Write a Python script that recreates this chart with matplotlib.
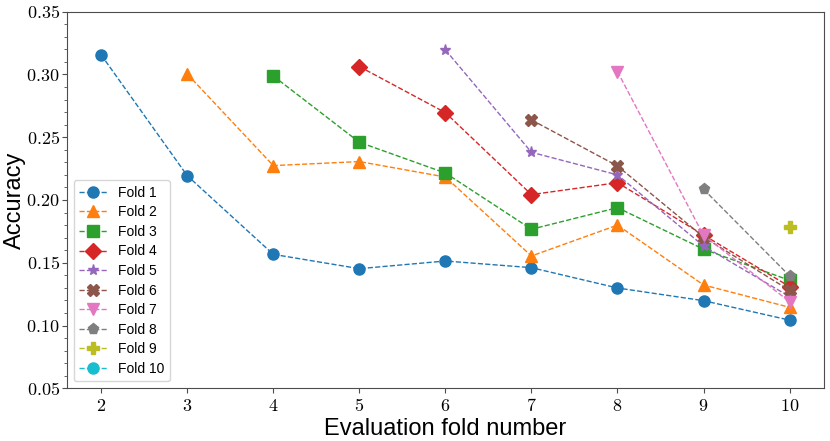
import matplotlib
matplotlib.use("Agg")
import matplotlib.pyplot as plt
from matplotlib.ticker import MultipleLocator, FuncFormatter

plt.rcParams['font.family'] = ['Liberation Sans', 'DejaVu Sans']
plt.rcParams['mathtext.fontset'] = 'cm'

# accuracy of each fold model evaluated on later folds
eval_folds = [2, 3, 4, 5, 6, 7, 8, 9, 10]
fold1 = [0.3156, 0.2194, 0.1567, 0.1453, 0.1514, 0.1461, 0.1299, 0.1198, 0.1043]
fold2 = [0.3004, 0.2274, 0.2306, 0.2183, 0.1554, 0.1800, 0.1323, 0.1145]
fold3 = [0.2988, 0.2460, 0.2215, 0.1767, 0.1939, 0.1608, 0.1360]
fold4 = [0.3063, 0.2696, 0.2043, 0.2138, 0.1721, 0.1310]
fold5 = [0.3196, 0.2380, 0.2200, 0.1634, 0.1230]
fold6 = [0.2638, 0.2271, 0.1705, 0.1280]
fold7 = [0.3023, 0.1718, 0.1190]
fold8 = [0.2086, 0.1395]
fold9 = [0.1788]
fold10 = []

series = [fold1, fold2, fold3, fold4, fold5, fold6, fold7, fold8, fold9, fold10]
labels = [f'Fold {i}' for i in range(1, 11)]
markers = ['o', '^', 's', 'D', '*', 'X', 'v', 'p', 'P', 'o']
colors = plt.rcParams['axes.prop_cycle'].by_key()['color']

fig, ax = plt.subplots(figsize=(8.3, 4.41), dpi=100)
fig.subplots_adjust(left=0.0804, right=0.9928, top=0.9735, bottom=0.1195)

for i, vals in enumerate(series):
    xs = eval_folds[i:i + len(vals)]
    ax.plot(xs, vals, linestyle='--', linewidth=1, marker=markers[i],
            markersize=8, color=colors[i], label=labels[i])

ax.set_xlim(1.6, 10.4)
ax.set_ylim(0.05, 0.35)
ax.set_xticks(eval_folds)
ax.yaxis.set_major_locator(MultipleLocator(0.05))
ax.yaxis.set_minor_locator(MultipleLocator(0.01))
ax.xaxis.set_major_formatter(FuncFormatter(lambda v, p: f'${v:.0f}$'))
ax.yaxis.set_major_formatter(FuncFormatter(lambda v, p: f'${v:.2f}$'))
ax.tick_params(labelsize=13)
ax.tick_params(axis='y', which='major', pad=1.5)
for s in ax.spines.values():
    s.set_color('0.3')
ax.tick_params(which='both', color='0.3')

ax.set_xlabel('Evaluation fold number', fontsize=17, labelpad=2)
ax.set_ylabel('Accuracy', fontsize=17, labelpad=0)
ax.legend(loc='lower left', fontsize=10, labelspacing=0.4)

fig.savefig('out.png', dpi=100)
